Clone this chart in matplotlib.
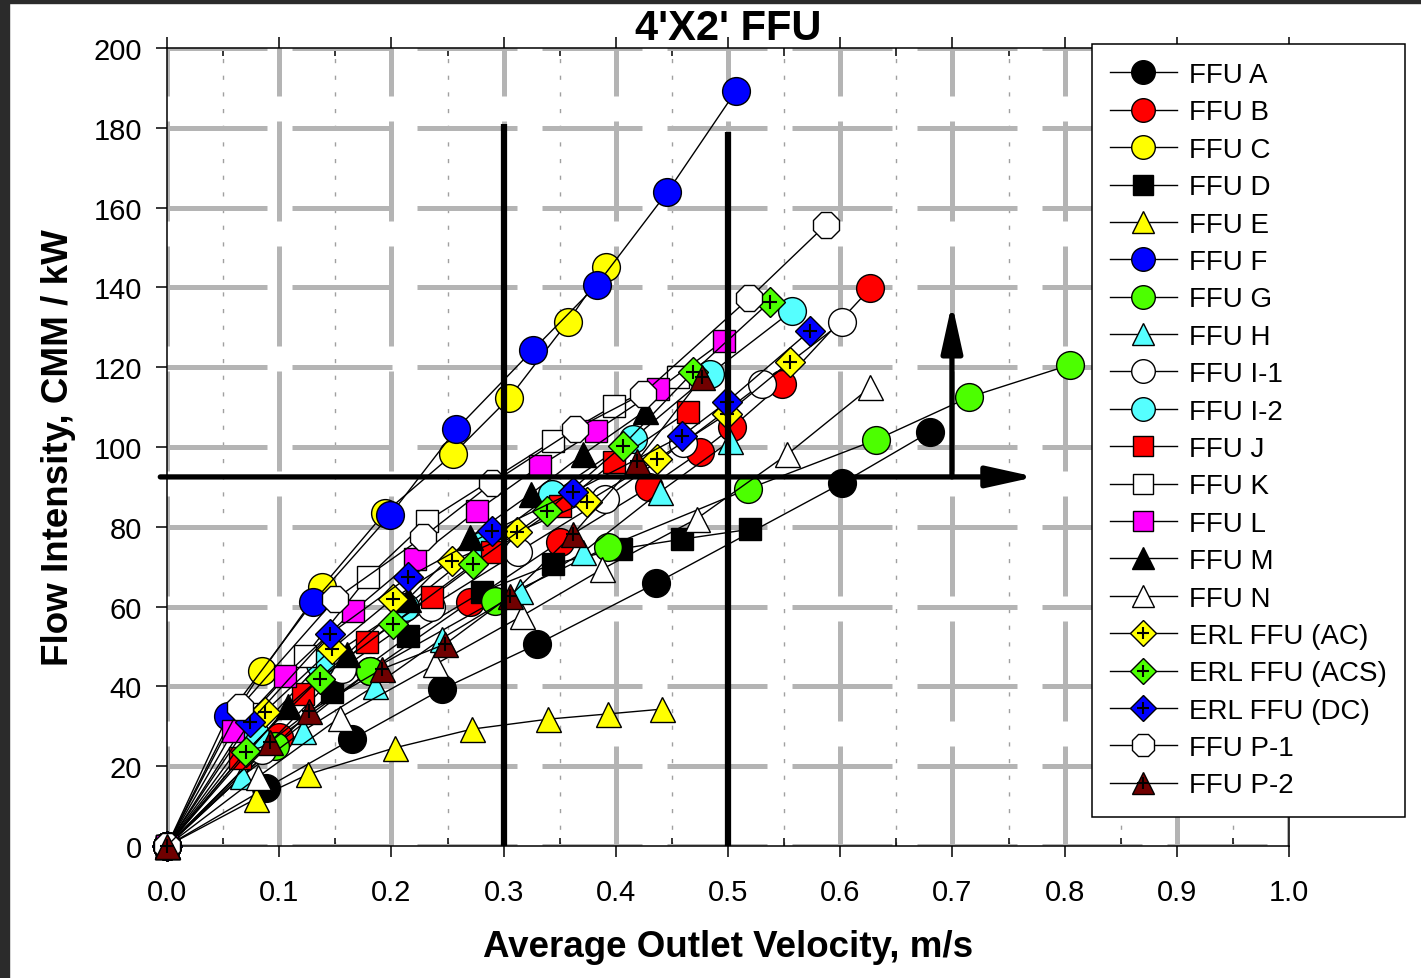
import matplotlib
matplotlib.use("Agg")
import numpy as np
import matplotlib.pyplot as plt
from matplotlib.lines import Line2D
from matplotlib.legend_handler import HandlerTuple
from matplotlib.patches import Rectangle
from matplotlib.ticker import FormatStrFormatter

plt.rcParams['font.family'] = ['Liberation Sans', 'DejaVu Sans']

# average outlet velocity (m/s) / flow intensity (CMM/kW) per unit
a_x = [0, 0.088, 0.165, 0.245, 0.330, 0.436, 0.602, 0.680]
a_y = [0, 14.5, 26.8, 39.3, 50.6, 65.9, 91.0, 103.8]
b_x = [0, 0.100, 0.181, 0.270, 0.350, 0.430, 0.475, 0.504, 0.548, 0.627]
b_y = [0, 27.3, 43.9, 61.2, 76.2, 90.0, 98.7, 105.0, 115.8, 139.8]
c_x = [0, 0.058, 0.085, 0.138, 0.194, 0.255, 0.305, 0.357, 0.391]
c_y = [0, 32.3, 43.9, 64.9, 83.5, 98.2, 112.3, 131.3, 145.1]
d_x = [0, 0.147, 0.215, 0.281, 0.344, 0.405, 0.459, 0.520]
d_y = [0, 38.6, 52.6, 63.7, 70.7, 74.5, 76.9, 79.4]
e_x = [0, 0.079, 0.126, 0.203, 0.272, 0.340, 0.393, 0.441]
e_y = [0, 11.8, 18.0, 24.6, 29.3, 31.8, 33.1, 34.3]
f_x = [0, 0.054, 0.130, 0.199, 0.258, 0.326, 0.383, 0.446, 0.507]
f_y = [0, 32.6, 61.1, 83.0, 104.5, 124.3, 140.6, 163.9, 189.2]
g_x = [0, 0.096, 0.181, 0.292, 0.393, 0.518, 0.632, 0.715, 0.805]
g_y = [0, 25.1, 43.9, 61.4, 75.0, 89.5, 101.8, 112.5, 120.6]
h_x = [0, 0.067, 0.121, 0.185, 0.245, 0.315, 0.371, 0.439, 0.502]
h_y = [0, 17.5, 28.8, 40.1, 52.0, 63.9, 73.7, 88.7, 101.5]
i1_x = [0, 0.085, 0.156, 0.235, 0.313, 0.390, 0.460, 0.530, 0.602]
i1_y = [0, 24.0, 44.4, 60.0, 73.7, 87.0, 101.0, 115.8, 131.3]
i2_x = [0, 0.078, 0.136, 0.212, 0.282, 0.343, 0.415, 0.484, 0.557]
i2_y = [0, 28.0, 45.6, 59.9, 75.5, 88.2, 102.0, 118.3, 134.1]
j_x = [0, 0.065, 0.121, 0.178, 0.236, 0.290, 0.350, 0.398, 0.464]
j_y = [0, 22.0, 38.1, 51.1, 62.4, 73.7, 85.2, 96.2, 108.8]
k_x = [0, 0.075, 0.123, 0.179, 0.232, 0.344, 0.398, 0.455]
k_y = [0, 33.0, 47.6, 67.4, 81.5, 101.5, 110.3, 117.5]
l_x = [0, 0.059, 0.105, 0.166, 0.221, 0.276, 0.332, 0.382, 0.438, 0.496]
l_y = [0, 28.8, 42.6, 58.9, 71.9, 84.0, 95.2, 104.0, 114.5, 126.6]
m_x = [0, 0.108, 0.160, 0.215, 0.270, 0.324, 0.371, 0.426]
m_y = [0, 35.1, 48.0, 62.0, 77.4, 88.2, 98.2, 109.0]
n_x = [0, 0.081, 0.154, 0.239, 0.316, 0.388, 0.472, 0.553, 0.627]
n_y = [0, 17.3, 32.2, 45.5, 57.6, 69.4, 82.0, 98.2, 115.0]
ac_x = [0, 0.087, 0.147, 0.201, 0.254, 0.312, 0.374, 0.437, 0.499, 0.555]
ac_y = [0, 33.6, 49.4, 61.9, 71.4, 78.7, 86.2, 97.0, 108.3, 121.3]
acs_x = [0, 0.070, 0.136, 0.201, 0.273, 0.339, 0.406, 0.469, 0.537]
acs_y = [0, 23.6, 41.9, 55.6, 70.7, 84.0, 100.3, 118.8, 136.3]
dc_x = [0, 0.074, 0.145, 0.215, 0.290, 0.362, 0.459, 0.499, 0.573]
dc_y = [0, 31.1, 53.1, 67.4, 78.9, 88.7, 102.8, 111.3, 129.1]
p1_x = [0, 0.065, 0.150, 0.228, 0.290, 0.364, 0.424, 0.519, 0.587]
p1_y = [0, 34.8, 61.9, 77.4, 91.0, 104.5, 113.3, 137.3, 155.6]
p2_x = [0, 0.092, 0.127, 0.192, 0.248, 0.306, 0.362, 0.419, 0.477]
p2_y = [0, 26.1, 33.8, 44.4, 50.6, 62.7, 78.2, 96.5, 117.5]

# reference lines
v_lines = [0.3, 0.5]
v_tops = [181, 179]
h_level = 92.5

# label, x, y, marker, face colour, plus-sign inside
series = [
    ("FFU A", a_x, a_y, 'o', '#000000', False),
    ("FFU B", b_x, b_y, 'o', '#ff0000', False),
    ("FFU C", c_x, c_y, 'o', '#ffff00', False),
    ("FFU D", d_x, d_y, 's', '#000000', False),
    ("FFU E", e_x, e_y, '^', '#ffff00', False),
    ("FFU F", f_x, f_y, 'o', '#0000ff', False),
    ("FFU G", g_x, g_y, 'o', '#4cff00', False),
    ("FFU H", h_x, h_y, '^', '#55ffff', False),
    ("FFU I-1", i1_x, i1_y, 'o', '#ffffff', False),
    ("FFU I-2", i2_x, i2_y, 'o', '#55ffff', False),
    ("FFU J", j_x, j_y, 's', '#ff0000', False),
    ("FFU K", k_x, k_y, 's', '#ffffff', False),
    ("FFU L", l_x, l_y, 's', '#ff00ff', False),
    ("FFU M", m_x, m_y, '^', '#000000', False),
    ("FFU N", n_x, n_y, '^', '#ffffff', False),
    ("ERL FFU (AC)", ac_x, ac_y, 'D', '#ffff00', True),
    ("ERL FFU (ACS)", acs_x, acs_y, 'D', '#4cff00', True),
    ("ERL FFU (DC)", dc_x, dc_y, 'D', '#0000ff', True),
    ("FFU P-1", p1_x, p1_y, '8', '#ffffff', False),
    ("FFU P-2", p2_x, p2_y, '^', '#700000', True),
]
msize = {'o': 20, 's': 16, '^': 18, 'D': 15, '8': 20}
leg_size = {'o': 17, 's': 14, '^': 16, 'D': 13, '8': 17}

fig = plt.figure(figsize=(14.21, 9.79), dpi=100)
fig.patch.set_facecolor('white')
fig.patches.append(Rectangle((0, 0), 9 / 1421, 1, transform=fig.transFigure,
                             color='#2b2b2b', zorder=-5))
fig.patches.append(Rectangle((0, 1 - 4 / 979), 1, 4 / 979, transform=fig.transFigure,
                             color='#2b2b2b', zorder=-5))

ax = fig.add_axes([167 / 1421, 1 - 847 / 979, 1122 / 1421, 798 / 979])
ax.set_xlim(0, 1.0)
ax.set_ylim(0, 200)
ax.set_axisbelow(True)

ax.set_xticks(np.arange(0, 1.01, 0.1))
ax.set_xticks(np.arange(0.05, 1.0, 0.1), minor=True)
ax.set_yticks(np.arange(0, 201, 20))
ax.xaxis.set_major_formatter(FormatStrFormatter('%.1f'))

ax.grid(True, which='major', color='#b4b4b4', lw=3.6, linestyle=(0, (20, 5)))
ax.grid(True, which='minor', axis='x', color='#a0a0a0', lw=1.0, linestyle=(0, (3, 9)))

for sp in ax.spines.values():
    sp.set_linewidth(1.1)

ax.tick_params(axis='x', which='major', direction='out', length=8, width=1.1,
               labelsize=21, pad=15, top=True)
ax.tick_params(axis='x', which='minor', direction='in', length=6, width=1.1, top=True)
ax.tick_params(axis='y', which='major', direction='out', length=8, width=1.1,
               labelsize=21, pad=10)

handles = []
for label, xs, ys, mk, col, plus in series:
    ax.plot(xs, ys, '-', color='black', lw=1.0, marker=mk, ms=msize[mk], mfc=col,
            mec='black', mew=1.0, clip_on=False, zorder=3)
    h = Line2D([], [], color='black', lw=1.0, marker=mk, ms=leg_size[mk], mfc=col,
               mec='black', mew=1.0)
    if plus:
        ax.plot(xs, ys, linestyle='none', marker='+', ms=10, mec='black', mew=1.5,
                clip_on=False, zorder=3)
        handles.append((h, Line2D([], [], linestyle='none', marker='+', ms=9,
                                  mec='black', mew=1.5)))
    else:
        handles.append(h)

# thick black guide lines and arrows
for xv, top in zip(v_lines, v_tops):
    ax.plot([xv, xv], [0, top], color='black', lw=4.5, solid_capstyle='butt', zorder=4)
ax.annotate('', xy=(0.774, h_level), xytext=(-0.006, h_level),
            arrowprops=dict(arrowstyle='-|>,head_length=1.45,head_width=0.32',
                            lw=3.8, color='black', shrinkA=0, shrinkB=0,
                            mutation_scale=20),
            annotation_clip=False, zorder=4)
ax.annotate('', xy=(0.6996, 136), xytext=(0.6996, h_level),
            arrowprops=dict(arrowstyle='-|>,head_length=1.45,head_width=0.32',
                            lw=3.8, color='black', shrinkA=0, shrinkB=0,
                            mutation_scale=20),
            annotation_clip=False, zorder=4)

ax.set_title("4'X2' FFU", fontsize=30, fontweight='bold', pad=6)
ax.set_xlabel("Average Outlet Velocity, m/s", fontsize=26.5, fontweight='bold')
ax.set_ylabel("Flow Intensity, CMM / kW", fontsize=26.5, fontweight='bold')
ax.xaxis.set_label_coords(0.5, -0.104)
ax.yaxis.set_label_coords(-0.081, 0.5)

leg = ax.legend(handles, [s[0] for s in series], loc='upper left',
                bbox_to_anchor=(1092 / 1421, 1 - 45 / 979), bbox_transform=fig.transFigure,
                fontsize=20, frameon=True, fancybox=False, framealpha=1, edgecolor='black',
                borderpad=0.65, labelspacing=0.41, handlelength=2.4, handletextpad=0.45,
                borderaxespad=0, handler_map={tuple: HandlerTuple(ndivide=1)})
leg.get_frame().set_linewidth(1.1)
leg.set_zorder(10)

fig.savefig('out.png', dpi=100)
